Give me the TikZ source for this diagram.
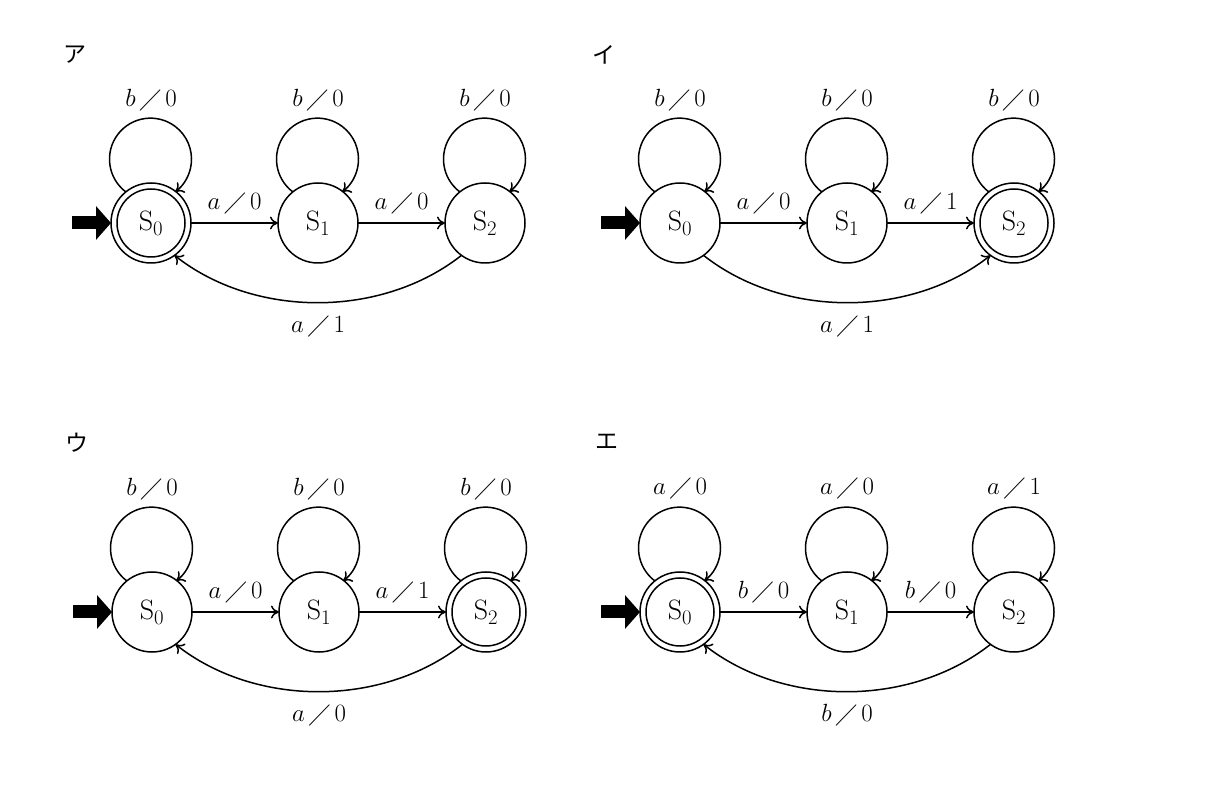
\documentclass[tikz,border=0pt]{standalone}
\usepackage{amssymb}
\usepackage{fontspec}
\newfontfamily\jpfont{Noto Sans CJK JP}
\usetikzlibrary{arrows.meta,calc}
\newcommand{\trlab}[2]{$#1\,\diagup\,#2$}
\begin{document}
\begin{tikzpicture}[x=1pt,y=1pt,
  st/.style={circle, draw, line width=1.5pt, minimum size=80pt, inner sep=0pt, outer sep=0pt, font=\fontsize{28}{32}\selectfont},
  ring/.style={line width=1.5pt},
  lab/.style={font=\fontsize{24}{28}\selectfont, inner sep=0pt},
  edge/.style={line width=1.5pt, -{To[length=8pt,width=13pt]}},
  init/.style={line width=13pt, -{Triangle[length=15pt,width=33pt]}},
  ttl/.style={font=\jpfont\fontsize{23}{26}\selectfont, inner sep=0pt}
]
\path[fill=white] (0,0) rectangle (1230,800);
\useasboundingbox (0,0) rectangle (1230,800);

% ---------------- ア ----------------
\node[ttl] (tA) at (75,745) {ア};
\node[st] (A0) at (151,577) {S$_0$};
\node[st] (A1) at (318,577) {S$_1$};
\node[st] (A2) at (485,577) {S$_2$};
\draw[ring] (A0.center) circle[radius=34pt];
\coordinate (Ai) at (72,577);
\draw[init] (Ai) -- (A0);
\draw[edge] (A0.129) arc[start angle=233, end angle=-53, radius=41pt];
\draw[edge] (A1.129) arc[start angle=233, end angle=-53, radius=41pt];
\draw[edge] (A2.129) arc[start angle=233, end angle=-53, radius=41pt];
\node[lab] (lA0) at ($(A0)+(0,123)$) {\trlab{b}{0}};
\node[lab] (lA1) at ($(A1)+(0,123)$) {\trlab{b}{0}};
\node[lab] (lA2) at ($(A2)+(0,123)$) {\trlab{b}{0}};
\draw[edge] (A0) -- node[lab, anchor=base, yshift=13pt] {\trlab{a}{0}} (A1);
\draw[edge] (A1) -- node[lab, anchor=base, yshift=13pt] {\trlab{a}{0}} (A2);
\draw[edge] (A2.234) .. controls +(-80,-63) and +(80,-63) .. node[lab, anchor=base, yshift=-30pt] {\trlab{a}{1}} (A0.306);

% ---------------- イ ----------------
\node[ttl] (tB) at (604,745) {イ};
\node[st] (B0) at (680,577) {S$_0$};
\node[st] (B1) at (847,577) {S$_1$};
\node[st] (B2) at (1014,577) {S$_2$};
\draw[ring] (B2.center) circle[radius=34pt];
\coordinate (Bi) at (601,577);
\draw[init] (Bi) -- (B0);
\draw[edge] (B0.129) arc[start angle=233, end angle=-53, radius=41pt];
\draw[edge] (B1.129) arc[start angle=233, end angle=-53, radius=41pt];
\draw[edge] (B2.129) arc[start angle=233, end angle=-53, radius=41pt];
\node[lab] (lB0) at ($(B0)+(0,123)$) {\trlab{b}{0}};
\node[lab] (lB1) at ($(B1)+(0,123)$) {\trlab{b}{0}};
\node[lab] (lB2) at ($(B2)+(0,123)$) {\trlab{b}{0}};
\draw[edge] (B0) -- node[lab, anchor=base, yshift=13pt] {\trlab{a}{0}} (B1);
\draw[edge] (B1) -- node[lab, anchor=base, yshift=13pt] {\trlab{a}{1}} (B2);
\draw[edge] (B0.306) .. controls +(80,-63) and +(-80,-63) .. node[lab, anchor=base, yshift=-30pt] {\trlab{a}{1}} (B2.234);

% ---------------- ウ ----------------
\node[ttl] (tC) at (77,357) {ウ};
\node[st] (C0) at (152,188) {S$_0$};
\node[st] (C1) at (319,188) {S$_1$};
\node[st] (C2) at (486,188) {S$_2$};
\draw[ring] (C2.center) circle[radius=34pt];
\coordinate (Ci) at (73,188);
\draw[init] (Ci) -- (C0);
\draw[edge] (C0.129) arc[start angle=233, end angle=-53, radius=41pt];
\draw[edge] (C1.129) arc[start angle=233, end angle=-53, radius=41pt];
\draw[edge] (C2.129) arc[start angle=233, end angle=-53, radius=41pt];
\node[lab] (lC0) at ($(C0)+(0,123)$) {\trlab{b}{0}};
\node[lab] (lC1) at ($(C1)+(0,123)$) {\trlab{b}{0}};
\node[lab] (lC2) at ($(C2)+(0,123)$) {\trlab{b}{0}};
\draw[edge] (C0) -- node[lab, anchor=base, yshift=13pt] {\trlab{a}{0}} (C1);
\draw[edge] (C1) -- node[lab, anchor=base, yshift=13pt] {\trlab{a}{1}} (C2);
\draw[edge] (C2.234) .. controls +(-80,-63) and +(80,-63) .. node[lab, anchor=base, yshift=-30pt] {\trlab{a}{0}} (C0.306);

% ---------------- エ ----------------
\node[ttl] (tD) at (607,358) {エ};
\node[st] (D0) at (680,188) {S$_0$};
\node[st] (D1) at (847,188) {S$_1$};
\node[st] (D2) at (1014,188) {S$_2$};
\draw[ring] (D0.center) circle[radius=34pt];
\coordinate (Di) at (601,188);
\draw[init] (Di) -- (D0);
\draw[edge] (D0.129) arc[start angle=233, end angle=-53, radius=41pt];
\draw[edge] (D1.129) arc[start angle=233, end angle=-53, radius=41pt];
\draw[edge] (D2.129) arc[start angle=233, end angle=-53, radius=41pt];
\node[lab] (lD0) at ($(D0)+(0,123)$) {\trlab{a}{0}};
\node[lab] (lD1) at ($(D1)+(0,123)$) {\trlab{a}{0}};
\node[lab] (lD2) at ($(D2)+(0,123)$) {\trlab{a}{1}};
\draw[edge] (D0) -- node[lab, anchor=base, yshift=13pt] {\trlab{b}{0}} (D1);
\draw[edge] (D1) -- node[lab, anchor=base, yshift=13pt] {\trlab{b}{0}} (D2);
\draw[edge] (D2.234) .. controls +(-80,-63) and +(80,-63) .. node[lab, anchor=base, yshift=-30pt] {\trlab{b}{0}} (D0.306);
\end{tikzpicture}
\end{document}
